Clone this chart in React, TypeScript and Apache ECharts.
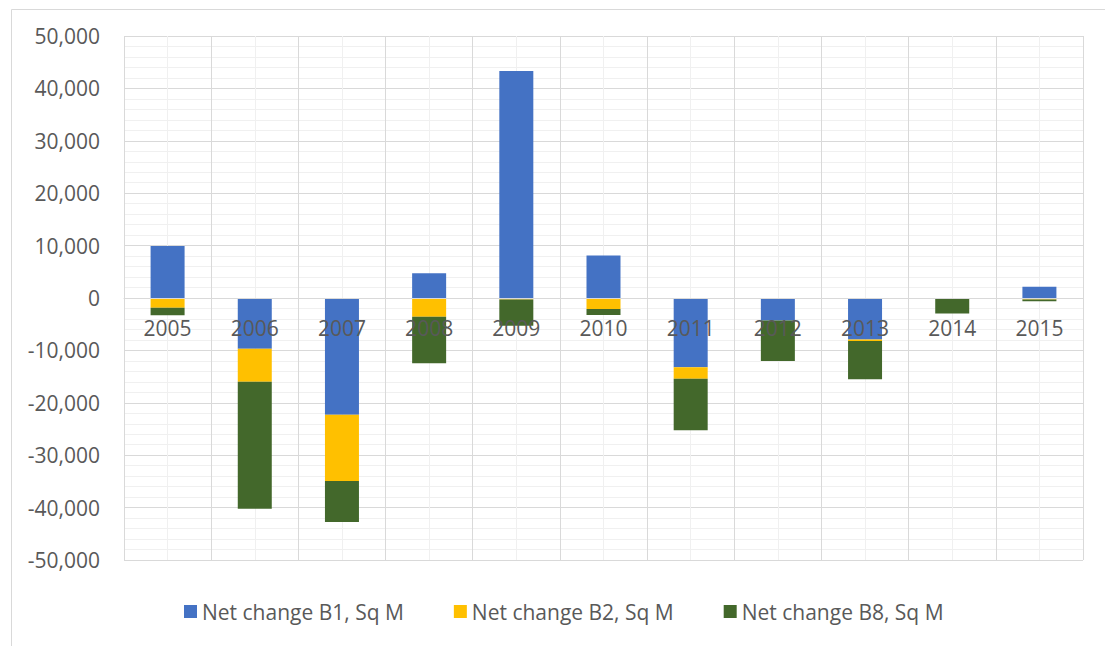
import React, { useEffect, useRef } from "react";
import * as echarts from "echarts";

const years = ["2005", "2006", "2007", "2008", "2009", "2010", "2011", "2012", "2013", "2014", "2015"];
const netB1 = [9900, -9700, -22300, 4700, 43300, 8100, -13200, -4300, -7900, -150, 2150];
const netB2 = [-1850, -6300, -12600, -3600, -300, -2100, -2200, 0, -300, 0, -300];
const netB8 = [-1450, -24200, -7850, -8850, -5000, -1150, -9850, -7700, -7300, -2800, -300];
const seriesNames = ["Net change B1, Sq M", "Net change B2, Sq M", "Net change B8, Sq M"];
const colors = ["#4472C4", "#FFC000", "#43682B"];

const FONT = "'Open Sans', sans-serif";
const TXT = "#595959";
const MAJOR = "#d9d9d9";
const MINOR = "#f0f0f0";

const Y_MIN = -50000;
const Y_MAX = 50000;
const GRID_TOP = 36;
const GRID_BOTTOM = 86;
const CHART_H = 646;

export default function App() {
  const ref = useRef<HTMLDivElement>(null);
  useEffect(() => {
    document.body.style.margin = "0";
    if (!ref.current) return;
    const chart = echarts.init(ref.current, null, { renderer: "svg" });
    const mk = (name: string, data: number[], color: string) => ({
      name,
      type: "bar",
      stack: "total",
      data,
      xAxisIndex: 0,
      yAxisIndex: 0,
      barCategoryGap: "61%",
      itemStyle: { color },
    });
    const gridBox = { left: 124, right: 22, top: GRID_TOP, bottom: GRID_BOTTOM, containLabel: false };
    // distance from the grid's bottom edge up to the value 0 line
    const plotH = CHART_H - GRID_TOP - GRID_BOTTOM;
    const zeroOffset = -plotH * ((0 - Y_MIN) / (Y_MAX - Y_MIN));
    chart.setOption({
      animation: false,
      textStyle: { fontFamily: FONT },
      graphic: [
        {
          type: "rect",
          left: 9,
          top: 7,
          shape: { width: 1110, height: 660 },
          style: { fill: "none", stroke: MAJOR, lineWidth: 1 },
          silent: true,
        },
      ],
      legend: {
        left: 179,
        top: 596,
        itemWidth: 13,
        itemHeight: 13,
        itemGap: 50,
        icon: "rect",
        textStyle: { fontFamily: FONT, fontSize: 21, color: TXT },
        data: seriesNames,
      },
      grid: [gridBox, { ...gridBox, z: 0 }],
      xAxis: [
        {
          type: "category",
          gridIndex: 0,
          data: years,
          position: "bottom",
          offset: zeroOffset,
          axisLine: { show: true, onZero: false, lineStyle: { color: MAJOR, width: 1 } },
          axisTick: { show: false },
          splitLine: { show: false },
          axisLabel: { color: TXT, fontSize: 21, fontFamily: FONT, margin: 19 },
          z: 5,
        },
        {
          type: "value",
          gridIndex: 1,
          min: 0,
          max: 11,
          interval: 1,
          position: "bottom",
          axisLine: { show: false, onZero: false },
          axisTick: { show: false },
          axisLabel: { show: false },
          splitLine: { show: true, lineStyle: { color: MAJOR, width: 1 } },
          minorTick: { show: false, splitNumber: 2 },
          minorSplitLine: { show: true, lineStyle: { color: MINOR, width: 1 } },
        },
      ],
      yAxis: [
        {
          type: "value",
          gridIndex: 0,
          min: Y_MIN,
          max: Y_MAX,
          interval: 10000,
          axisLine: { show: false },
          axisTick: { show: false },
          axisLabel: {
            color: TXT,
            fontSize: 21,
            fontFamily: FONT,
            margin: 24,
            formatter: (v: number) => v.toLocaleString("en-US"),
          },
          splitLine: { show: true, lineStyle: { color: MAJOR, width: 1 } },
          minorTick: { show: false, splitNumber: 5 },
          minorSplitLine: { show: true, lineStyle: { color: MINOR, width: 1 } },
        },
        {
          type: "value",
          gridIndex: 1,
          min: Y_MIN,
          max: Y_MAX,
          interval: 10000,
          axisLine: { show: false, onZero: false },
          axisTick: { show: false },
          axisLabel: { show: false },
          splitLine: { show: false },
        },
      ],
      series: [
        mk(seriesNames[0], netB1, colors[0]),
        mk(seriesNames[1], netB2, colors[1]),
        mk(seriesNames[2], netB8, colors[2]),
      ],
    });
    return () => chart.dispose();
  }, []);
  return <div ref={ref} style={{ width: 1105, height: 646 }} />;
}
